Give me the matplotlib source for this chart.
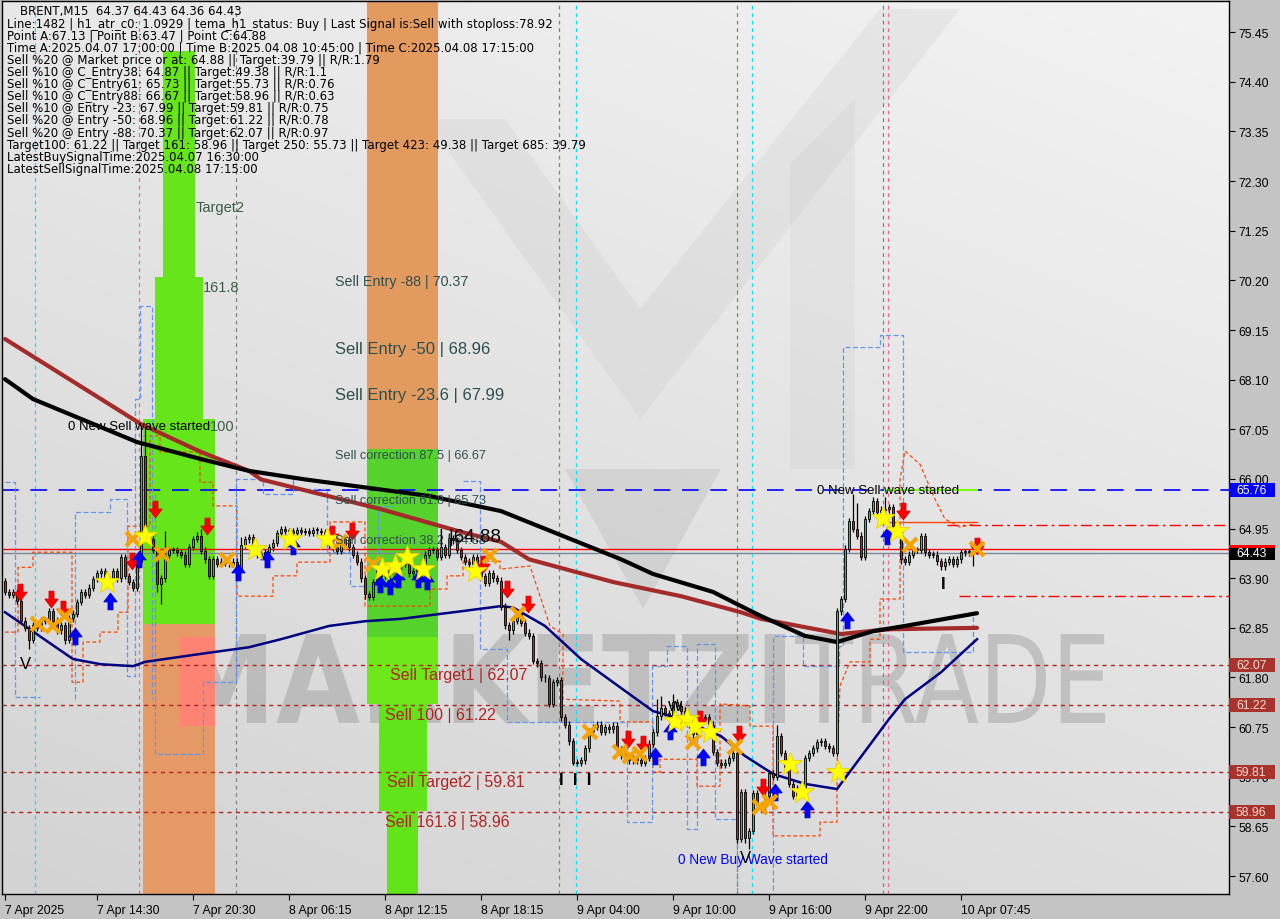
import matplotlib
matplotlib.use('Agg')
import matplotlib.pyplot as plt
import matplotlib.transforms as mtransforms
import numpy as np
from matplotlib.patches import Rectangle, Polygon, PathPatch
from matplotlib.path import Path
from matplotlib.textpath import TextPath
from matplotlib.font_manager import FontProperties

plt.rcParams['font.family'] = ['Liberation Sans', 'DejaVu Sans']

# ---------------- data (bar index, price) ----------------
closes = [63.61, 63.55, 63.60, 63.42, 63.00, 62.85, 62.60, 62.90, 62.85, 63.00,
          63.00, 63.20, 63.00, 62.80, 62.90, 62.60, 63.05, 63.15, 63.40, 63.60,
          63.55, 63.70, 63.88, 64.00, 64.05, 63.85, 63.90, 64.05, 63.90, 64.35,
          63.95, 63.82, 63.70, 64.25, 66.48, 64.80, 64.72, 64.50, 63.78, 63.90,
          64.40, 64.50, 64.50, 64.45, 64.40, 64.20, 64.56, 64.73, 64.80, 64.48,
          64.30, 63.95, 64.30, 64.20, 64.25, 64.22, 64.20, 64.25, 64.10, 64.60,
          64.72, 64.77, 64.47, 64.40, 64.40, 64.45, 64.55, 64.65, 64.85, 64.94,
          64.90, 64.90, 64.85, 64.92, 64.88, 64.90, 64.86, 64.92, 64.90, 64.88,
          64.75, 64.60, 64.55, 64.48, 64.60, 64.72, 64.55, 64.40, 64.25, 63.90,
          63.56, 63.50, 63.82, 64.10, 63.95, 64.00, 64.05, 64.10, 64.15, 64.20,
          64.20, 64.00, 64.05, 64.10, 64.15, 64.40, 64.50, 64.50, 64.35, 64.55,
          64.40, 64.75, 64.70, 64.50, 64.35, 64.25, 64.20, 64.35, 64.15, 63.95,
          63.80, 64.00, 63.90, 63.85, 63.30, 62.90, 62.80, 63.00, 63.15, 62.95,
          62.75, 62.68, 62.15, 62.10, 61.80, 61.78, 61.24, 61.70, 61.75, 60.96,
          60.80, 60.45, 60.00, 60.00, 60.05, 60.30, 60.66, 60.75, 60.80, 60.65,
          60.75, 60.70, 60.78, 60.28, 60.15, 60.10, 60.05, 60.10, 60.05, 60.00,
          60.10, 60.40, 60.64, 60.98, 61.15, 61.05, 61.00, 61.28, 61.20, 61.10,
          60.95, 60.80, 60.60, 60.80, 60.95, 60.96, 60.80, 60.22, 60.00, 59.95,
          60.00, 60.10, 60.20, 58.38, 59.38, 58.40, 58.55, 59.35, 59.10, 59.05,
          59.30, 59.78, 59.70, 60.56, 60.20, 59.90, 59.55, 59.30, 59.45, 59.45,
          60.10, 60.20, 60.30, 60.43, 60.45, 60.35, 60.30, 60.20, 63.20, 63.46,
          64.52, 65.10, 64.95, 64.80, 64.35, 65.15, 65.32, 65.53, 65.30, 65.35,
          65.36, 65.40, 65.00, 64.90, 64.31, 64.25, 64.40, 64.50, 64.50, 64.79,
          64.45, 64.40, 64.40, 64.26, 64.15, 64.25, 64.30, 64.20, 64.30, 64.45,
          64.45, 64.45, 64.43]
first_open = 63.84
wick_high = {34: 67.12, 35: 67.10, 40: 64.90, 49: 64.95, 59: 64.78, 111: 64.85,
             163: 61.35, 164: 61.40, 167: 61.45, 193: 60.80, 210: 64.60,
             212: 65.68, 213: 65.50, 217: 65.62, 220: 65.62, 229: 64.85}
wick_low = {6: 62.40, 15: 62.50, 38: 63.60, 39: 63.35, 90: 63.46, 126: 62.60,
            142: 59.95, 183: 58.30, 185: 58.30, 186: 58.17, 224: 64.20, 242: 64.16}

black_ma_bars = [0, 7, 33, 49, 61, 75, 106, 124, 154, 162, 177, 184, 189, 200, 208, 217, 225, 243]
black_ma_vals = [68.11, 67.69, 66.78, 66.42, 66.17, 65.99, 65.64, 65.32, 64.30, 63.99,
                 63.61, 63.31, 63.10, 62.68, 62.55, 62.78, 62.89, 63.16]
brown_ma_bars = [0, 24, 34, 49, 61, 64, 94, 114, 124, 131, 152, 169, 184, 189, 209, 221, 243]
brown_ma_vals = [68.96, 67.69, 67.16, 66.57, 66.17, 65.99, 65.36, 64.88, 64.67, 64.30,
                 63.82, 63.52, 63.18, 63.04, 62.72, 62.82, 62.85]
navy_ma_bars = [0, 17, 24, 32, 35, 49, 61, 69, 81, 90, 99, 114, 124, 127, 135, 144,
                152, 162, 169, 179, 185, 192, 200, 208, 221, 225, 234, 243]
navy_ma_vals = [63.18, 62.19, 62.08, 62.04, 62.13, 62.30, 62.44, 62.61, 62.89, 62.99,
                63.04, 63.20, 63.31, 63.28, 62.89, 62.19, 61.70, 61.09, 60.92, 60.56,
                60.14, 59.76, 59.55, 59.44, 60.92, 61.34, 61.91, 62.61]

orange_band_bars = [0, 3.25, 3.25, 7, 7, 16.75, 16.75, 19.5, 19.5, 23.75, 23.75, 28.25,
                    28.25, 30.75, 30.75, 36.25, 36.25, 38.75, 38.75, 48.75, 48.75, 52,
                    52, 58, 58, 67, 67, 73, 73, 81.25, 81.25, 90, 90, 106.25, 106.25,
                    110.5, 110.5, 114.5, 114.5, 123.75, 123.75, 131.25, 136.25, 139.5,
                    139.5, 153.75, 153.75, 162, 162, 163.75, 163.75, 173, 173, 178.75,
                    178.75, 186.25, 186.25, 192, 192, 203.75, 203.75, 208, 208, 208.75,
                    211.25, 216.25, 216.25, 218.75, 218.75, 223.75, 223.75, 225, 228.75,
                    232.5, 235, 238.75, 242.5]
orange_band_vals = [62.76, 62.76, 64.13, 64.13, 64.45, 64.45, 61.70, 61.70, 62.55, 62.55,
                    62.76, 62.76, 63.18, 63.18, 65.00, 65.00, 66.91, 66.91, 66.57, 66.57,
                    65.93, 65.93, 65.43, 65.43, 63.52, 63.52, 63.95, 63.95, 64.24, 64.24,
                    65.09, 65.09, 63.31, 63.31, 63.67, 63.67, 63.95, 63.95, 64.26, 64.26,
                    64.09, 64.16, 62.89, 62.72, 61.34, 61.30, 60.86, 60.86, 59.80, 59.80,
                    60.07, 60.07, 59.50, 59.50, 61.24, 61.20, 60.77, 60.77, 58.45, 58.45,
                    58.74, 58.74, 59.93, 61.62, 62.13, 62.13, 62.61, 62.61, 63.46, 63.46,
                    65.99, 66.59, 66.31, 65.57, 65.15, 64.98, 65.05]

blue_band_segments = [
    ([0, 2.5, 2.5, 8.75], [65.93, 65.93, 61.38, 61.38]),
    ([17.5, 17.5, 26.25, 26.25, 30.5, 30.5, 32.5, 32.5, 33.75, 33.75, 36.75, 36.75],
     [61.34, 65.30, 65.30, 65.57, 65.57, 61.83, 61.83, 67.69, 67.69, 69.65, 69.65, 61.34]),
    ([37.5, 37.5, 49.5, 49.5, 57.75, 57.75, 64.5, 64.5, 72, 72],
     [65.68, 60.18, 60.18, 61.70, 61.70, 65.99, 65.99, 65.68, 65.68, 65.99]),
    ([72, 72, 80.5, 80.5, 86.25, 86.25, 93.25, 93.25, 97],
     [65.99, 65.78, 65.78, 64.45, 64.45, 63.73, 63.73, 65.43, 65.43]),
    ([114.5, 118.75, 118.75, 125.5, 125.5, 155.5, 155.5, 161.75, 161.75, 165.5, 165.5,
      170.5, 170.5, 173, 173, 177.5, 177.5, 183, 183],
     [65.95, 65.95, 62.40, 62.40, 60.86, 60.86, 58.74, 58.74, 62.04, 62.04, 62.46,
      62.46, 58.59, 58.59, 62.50, 62.50, 58.81, 58.81, 57.30]),
    ([192, 192, 199.5, 199.5, 208.5, 208.5, 209.5, 209.5, 218.75, 218.75, 224.5, 224.5,
      242, 242],
     [57.30, 62.68, 62.68, 62.04, 62.04, 62.46, 62.46, 68.79, 68.79, 69.04, 69.04, 62.34,
      62.34, 63.18]),
]

# zones: start bar, end bar, low, high, colour
zones = [
    (39.5, 47.5, 70.27, 75.05, '#66e61a'),
    (37.5, 49.5, 67.27, 70.27, '#66e61a'),
    (34.5, 52.5, 62.93, 67.27, '#66e61a'),
    (34.5, 52.5, 56.00, 62.93, '#e59a66'),
    (43.75, 52.5, 60.77, 62.66, '#ff8372'),
    (90.5, 108.25, 66.63, 78.00, '#e29a5e'),
    (90.5, 108.25, 62.66, 66.63, '#55d22c'),
    (90.5, 108.25, 61.24, 62.66, '#6fe819'),
    (93.5, 105.5, 58.97, 61.24, '#62e41b'),
    (95.5, 103.25, 56.00, 58.97, '#62e41b'),
]

sell_levels = [62.07, 61.22, 59.81, 58.96]
sell_level_names = ['Sell Target1 | 62.07', 'Sell 100 | 61.22', 'Sell Target2 | 59.81', 'Sell 161.8 | 58.96']
sell_level_bars = [96.25, 95.0, 95.5, 95.0]
entry_levels = [70.37, 68.96, 67.99, 66.67, 65.73, 64.88]
entry_names = ['Sell Entry -88 | 70.37', 'Sell Entry -50 | 68.96', 'Sell Entry -23.6 | 67.99',
               'Sell correction 87.5 | 66.67', 'Sell correction 61.8 | 65.73',
               'Sell correction 38.2 | 64.88']
entry_sizes = [10.3, 12, 12, 9.2, 9.2, 9.2]
sell_wave_level = 65.76
bid_price = 64.43
ask_line = 64.52

red_down_bars = [3.75, 11.5, 14.5, 31.75, 37.5, 50.5, 81.75, 86.75, 119.5, 125.5, 130.75,
                 155.75, 159.5, 173.75, 183.5, 189.5, 224.5, 243]
red_down_vals = [63.61, 63.46, 63.25, 64.26, 65.36, 65.00, 64.83, 64.90, 64.20, 63.67, 63.35,
                 60.50, 60.39, 60.92, 60.60, 59.48, 65.32, 64.58]
blue_up_bars = [17.5, 26.25, 33.5, 58.25, 65.5, 72, 93.75, 96.25, 98.25, 103.25, 105.5,
                162.5, 166.25, 174.5, 192.5, 200.5, 210.5, 220.5]
blue_up_vals = [62.68, 63.42, 64.30, 64.03, 64.30, 64.58, 63.78, 63.73, 63.88, 63.88, 63.84,
                60.14, 60.67, 60.12, 59.38, 59.02, 63.01, 64.79]
star_bars = [25.5, 35, 62.5, 71.25, 80.5, 94.25, 97.5, 100.5, 104.5, 117.5, 167.5, 170.5,
             172.5, 176.25, 196.25, 199.25, 208.25, 219.5, 223]
star_vals = [63.82, 64.79, 64.52, 64.73, 64.73, 64.09, 64.16, 64.35, 64.09, 64.05, 60.88,
             60.92, 60.77, 60.65, 59.97, 59.38, 59.80, 65.17, 64.90]
cross_bars = [8.25, 12, 15, 32, 39.25, 55.5, 83.75, 92, 121.25, 128.25, 146.25, 153.75,
              156.25, 158.75, 172, 182.5, 188.75, 191.25, 226.25, 243]
cross_vals = [62.93, 62.89, 63.10, 64.73, 64.41, 64.28, 64.66, 64.20, 64.37, 63.14, 60.65,
              60.22, 60.14, 60.18, 60.43, 60.33, 59.06, 59.17, 64.60, 64.52]

price_ticks = [75.45, 74.40, 73.35, 72.30, 71.25, 70.20, 69.15, 68.10, 67.05, 66.00,
               64.95, 63.90, 62.85, 61.80, 60.75, 59.70, 58.65, 57.60]
time_tick_bars = [0, 23, 47, 71, 95, 119, 143, 167, 191, 215, 239]
time_tick_labels = ['7 Apr 2025', '7 Apr 14:30', '7 Apr 20:30', '8 Apr 06:15', '8 Apr 12:15',
                    '8 Apr 18:15', '9 Apr 04:00', '9 Apr 10:00', '9 Apr 16:00', '9 Apr 22:00',
                    '10 Apr 07:45']
vline_bars = [7.5, 33.5, 57.75, 138.5, 142.75, 183, 186.75, 219.5, 220.75]
vline_colors = ['#00e5ff', '#ff5fa0', '#808080', '#808080', '#00e5ff', '#808080', '#00e5ff',
                '#808080', '#ff5fa0']

info_lines = [
    'BRENT,M15  64.37 64.43 64.36 64.43',
    'Line:1482 | h1_atr_c0: 1.0929 | tema_h1_status: Buy | Last Signal is:Sell with stoploss:78.92',
    'Point A:67.13 | Point B:63.47 | Point C:64.88',
    'Time A:2025.04.07 17:00:00 | Time B:2025.04.08 10:45:00 | Time C:2025.04.08 17:15:00',
    'Sell %20 @ Market price or at: 64.88 || Target:39.79 || R/R:1.79',
    'Sell %10 @ C_Entry38: 64.87 || Target:49.38 || R/R:1.1',
    'Sell %10 @ C_Entry61: 65.73 || Target:55.73 || R/R:0.76',
    'Sell %10 @ C_Entry88: 66.67 || Target:58.96 || R/R:0.63',
    'Sell %10 @ Entry -23: 67.99 || Target:59.81 || R/R:0.75',
    'Sell %20 @ Entry -50: 68.96 || Target:61.22 || R/R:0.78',
    'Sell %20 @ Entry -88: 70.37 || Target:62.07 || R/R:0.97',
    'Target100: 61.22 || Target 161: 58.96 || Target 250: 55.73 || Target 423: 49.38 || Target 685: 39.79',
    'LatestBuySignalTime:2025.04.07 16:30:00',
    'LatestSellSignalTime:2025.04.08 17:15:00',
]

# ---------------- figure ----------------
fig = plt.figure(figsize=(12.8, 9.2), dpi=100, facecolor='#c4c4c4')
ax = fig.add_axes([2 / 1280, 25 / 920, 1227 / 1280, 893 / 920])
ax.set_xlim(-0.75, 306)
ax.set_ylim(57.22, 76.11)


def pxa(x, y):
    return ((x - 2) / 1227, (895 - y) / 893)


# background gradient
gx, gy = np.meshgrid(np.linspace(0, 1, 200), np.linspace(0, 1, 200))
grad = 0.35 * gx + 0.65 * gy
ax.imshow(grad, extent=[0, 1, 0, 1], transform=ax.transAxes, origin='lower',
          cmap=matplotlib.colors.LinearSegmentedColormap.from_list('bg', ['#d3d3d3', '#f3f3f3']),
          aspect='auto', zorder=0, interpolation='bilinear')

# watermark logo
for poly, col, al in [
    ([(425, 120), (505, 120), (640, 310), (880, 10), (960, 10), (640, 420)], '#a8a8a8', 0.13),
    ([(565, 470), (721, 470), (643, 610)], '#a0a0a0', 0.22),
    ([(790, 165), (855, 100), (855, 470), (790, 470)], '#b0b0b0', 0.12),
]:
    ax.add_patch(Polygon([pxa(*p) for p in poly], closed=True, transform=ax.transAxes,
                         facecolor=col, edgecolor='none', alpha=al, zorder=0.5))


def word_patch(s, box, weight, color, alpha):
    tp = TextPath((0, 0), s, size=1, prop=FontProperties(family='DejaVu Sans', weight=weight))
    ext = tp.get_extents()
    (x0, y0), (x1, y1) = pxa(box[0], box[3]), pxa(box[1], box[2])
    tr = mtransforms.Affine2D().translate(-ext.x0, -ext.y0).scale(
        (x1 - x0) / ext.width, (y1 - y0) / ext.height).translate(x0, y0)
    ax.add_patch(PathPatch(tr.transform_path(tp), transform=ax.transAxes,
                           facecolor=color, edgecolor='none', alpha=alpha, zorder=0.6))


word_patch('MARKETZI', (178, 785, 635, 724), 'bold', '#8c8c8c', 0.38)
word_patch('TRADE', (795, 1105, 635, 724), 'normal', '#8c8c8c', 0.38)

# zones
for b0, b1, lo, hi, col in zones:
    ax.add_patch(Rectangle((b0, lo), b1 - b0, hi - lo, facecolor=col, edgecolor='none', zorder=1))

# vertical separators
for b, c in zip(vline_bars, vline_colors):
    ax.axvline(b, color=c, lw=0.9, dashes=(3, 3), zorder=1.5)

# horizontal levels
for lv in sell_levels:
    ax.axhline(lv, color='#b22222', lw=1.0, dashes=(3, 3), zorder=2)
ax.axhline(sell_wave_level, color='#0000ff', lw=1.2, dashes=(10, 7), zorder=2)
ax.axhline(ask_line, color='#ff0000', lw=1.0, zorder=2)
ax.axhline(bid_price, color='#778899', lw=1.0, zorder=2)
ax.plot([220, 243], [sell_wave_level, sell_wave_level], color='#7cfc00', lw=1.5, zorder=2.1)
ax.plot([220, 243], [65.08, 65.08], color='#ff4500', lw=1.0, zorder=2.1)
ax.plot([235.5, 306], [65.02, 65.02], color='#ff0000', lw=1.0, dashes=(8, 3, 2, 3), zorder=2.1)
ax.plot([238.5, 306], [63.52, 63.52], color='#ff0000', lw=1.0, dashes=(8, 3, 2, 3), zorder=2.1)

# dashed bands
ax.plot(orange_band_bars, orange_band_vals, color='#ff4500', lw=0.9, dashes=(3, 2), zorder=2.5)
for bx, by in blue_band_segments:
    ax.plot(bx, by, color='#6495ed', lw=0.9, dashes=(4, 2), zorder=2.5)

# moving averages
ax.plot(brown_ma_bars, brown_ma_vals, color='#a52a2a', lw=3, zorder=3, solid_capstyle='round')
ax.plot(black_ma_bars, black_ma_vals, color='#000000', lw=3, zorder=3.1, solid_capstyle='round')
ax.plot(navy_ma_bars, navy_ma_vals, color='#000080', lw=1.8, zorder=3.2)

# candles
c = np.array(closes)
o = np.array([first_open] + closes[:-1])
idx = np.arange(len(c))
hi = np.maximum(o, c) + 0.07
lo = np.minimum(o, c) - 0.07
for k, v in wick_high.items():
    hi[k] = v
for k, v in wick_low.items():
    lo[k] = v
ax.vlines(idx, lo, hi, color='black', lw=0.9, zorder=4)
body = c - o
body = np.where(np.abs(body) < 0.02, 0.02, body)
cols = np.where(c >= o, '#3cb371', '#c8202c')
ax.bar(idx, body, bottom=o, width=0.62, color=cols, edgecolor='black', linewidth=0.6, zorder=4.1)

# signal markers
down_path = Path([(-0.3, 1), (0.3, 1), (0.3, 0.05), (0.8, 0.05), (0, -1), (-0.8, 0.05),
                  (-0.3, 0.05), (-0.3, 1)], closed=True)
up_path = Path([(-0.3, -1), (0.3, -1), (0.3, -0.05), (0.8, -0.05), (0, 1), (-0.8, -0.05),
                (-0.3, -0.05), (-0.3, -1)], closed=True)
ax.plot(red_down_bars, red_down_vals, ls='none', marker=down_path, ms=12, mfc='#ff0000',
        mec='#d00000', mew=0.6, zorder=5)
ax.plot(blue_up_bars, blue_up_vals, ls='none', marker=up_path, ms=12, mfc='#0000ff',
        mec='#0000c0', mew=0.6, zorder=5)
ax.plot(cross_bars, cross_vals, ls='none', marker='x', ms=10, mew=3, color='#f5a300', zorder=5.1)
ax.plot(star_bars, star_vals, ls='none', marker='*', ms=18, mfc='#ffff00', mec='#e8d000',
        mew=0.6, zorder=5.2)

# chart texts
for name, lv, b in zip(sell_level_names, sell_levels, sell_level_bars):
    ax.text(b, lv - 0.05, name, color='#b22222', fontsize=11.5, ha='left', va='top', zorder=6)
for name, lv, fs in zip(entry_names, entry_levels, entry_sizes):
    ax.text(82.6, lv - 0.04, name, color='#2f4f4f', fontsize=fs, ha='left', va='top', zorder=6)
ax.text(47.75, 71.75, 'Target2', color='#3d5c46', fontsize=10.5, va='center', zorder=6)
ax.text(49.5, 70.06, '161.8', color='#3d5c46', fontsize=10.5, va='center', zorder=6)
ax.text(51.25, 67.12, '100', color='#3d5c46', fontsize=10.5, va='center', zorder=6)
ax.text(15.75, 67.12, '0 New Sell wave started', color='black', fontsize=9.5, va='center', zorder=6)
ax.text(203, 65.76, '0 New Sell wave started', color='black', fontsize=9.5, va='center', zorder=6)
ax.text(168.25, 57.96, '0 New Buy Wave started', color='#0000ff', fontsize=9.8, va='center', zorder=6)
ax.text(108.5, 64.79, '| |64.88', color='black', fontsize=13.5, va='center', zorder=6)
ax.text(5, 62.09, 'V', color='black', fontsize=12, ha='center', va='center', zorder=6)
ax.text(185, 58.0, 'V', color='black', fontsize=12, ha='center', va='center', zorder=6)
ax.text(142.5, 59.65, 'I  I  I', color='black', fontsize=12, fontweight='bold', ha='center',
        va='center', zorder=6)
ax.text(234.5, 63.78, 'I', color='black', fontsize=12, fontweight='bold', ha='center',
        va='center', zorder=6)
ax.text(167.5, 61.2, 'W', color='black', fontsize=11, ha='center', va='center', zorder=6)

# axes / ticks
ax.yaxis.tick_right()
ax.set_yticks(price_ticks)
ax.set_yticklabels(['%.2f' % v for v in price_ticks])
ax.set_xticks(time_tick_bars)
ax.set_xticklabels(time_tick_labels)
for lab in ax.get_xticklabels():
    lab.set_ha('left')
ax.tick_params(axis='y', labelsize=8.8, length=4, width=0.8, colors='black', pad=3)
ax.tick_params(axis='x', labelsize=8.8, length=4, width=0.8, colors='black', pad=3)
for s in ax.spines.values():
    s.set_color('black')
    s.set_linewidth(1.0)

# price boxes on the right scale
blend = mtransforms.blended_transform_factory(ax.transAxes, ax.transData)
bw = 46 / 1227
bh = 7 * 0.021149
for lv, fc, tc in [(sell_wave_level, '#0000ff', 'white'), (bid_price, '#000000', 'white'),
                   (62.07, '#a8322c', '#f3dcd0'), (61.22, '#a8322c', '#f3dcd0'),
                   (59.81, '#a8322c', '#f3dcd0'), (58.96, '#a8322c', '#f3dcd0')]:
    ax.add_patch(Rectangle((1.0, lv - bh), bw, 2 * bh, transform=blend, facecolor=fc,
                           edgecolor='none', clip_on=False, zorder=10))
    ax.text(1.0 + 7 / 1227, lv, '%.2f' % lv, transform=blend, color=tc, fontsize=8.8,
            va='center', ha='left', zorder=11, clip_on=False)
ax.add_patch(Rectangle((1.0, ask_line + 0.02), bw, 0.07, transform=blend, facecolor='#ff0000',
                       edgecolor='none', clip_on=False, zorder=10))

# info block
for i, line in enumerate(info_lines):
    xp = 20 if i == 0 else 7
    yp = 12 + i * 12.1
    fig.text(xp / 1280, 1 - yp / 920, line, fontsize=8.5, color='black', va='center',
             ha='left', zorder=20, family='DejaVu Sans')

fig.savefig('out.png', dpi=100, facecolor=fig.get_facecolor())
